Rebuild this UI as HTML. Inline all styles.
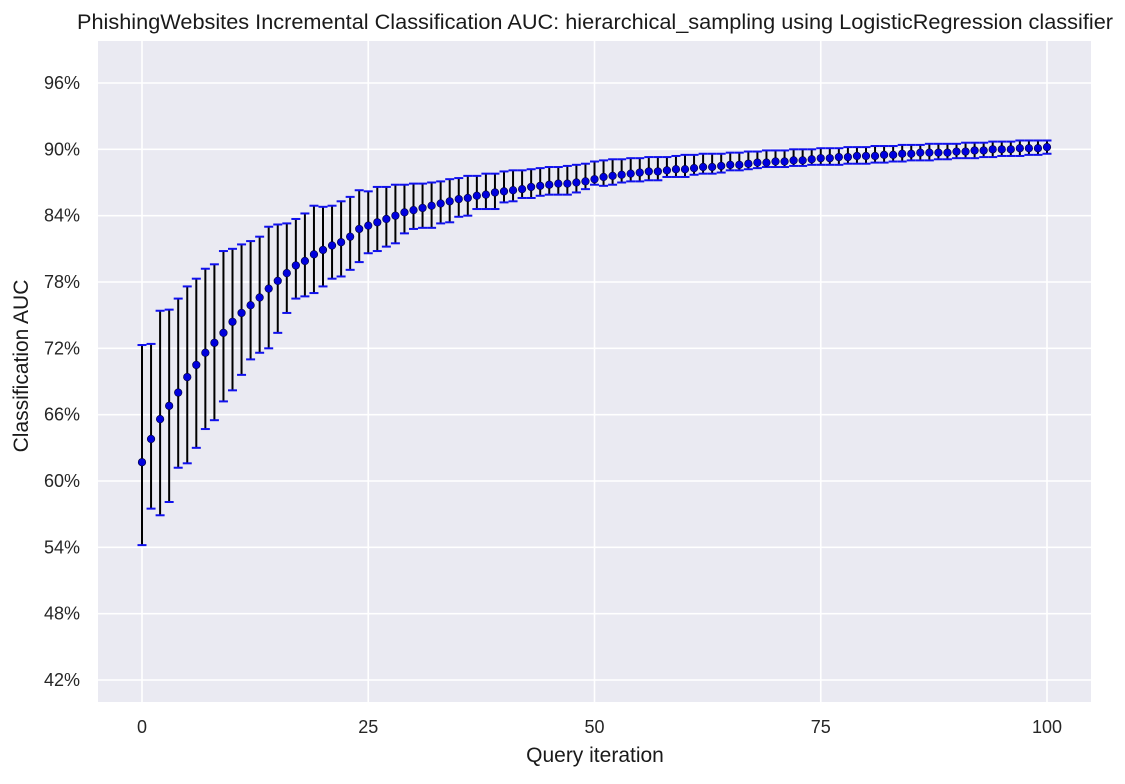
<!DOCTYPE html>
<html><head><meta charset="utf-8"><style>
body{margin:0;background:#fff;}
svg{font-family:"Liberation Sans",Arial,sans-serif;}
</style></head><body>
<svg id="chart" width="1125" height="779" xmlns="http://www.w3.org/2000/svg">
<rect x="98" y="41" width="993" height="661" fill="#eaeaf2"/>
<g id="grid"></g>
<g id="bars"></g>
<g id="ticks"></g>
<text x="595" y="29" font-size="21" text-anchor="middle" textLength="1036" lengthAdjust="spacingAndGlyphs" fill="#1a1a1a">PhishingWebsites Incremental Classification AUC: hierarchical_sampling using LogisticRegression classifier</text>
<text x="595" y="762" font-size="21" text-anchor="middle" fill="#1a1a1a">Query iteration</text>
<text transform="translate(28,366) rotate(-90)" font-size="21" text-anchor="middle" fill="#1a1a1a">Classification AUC</text>
</svg>
<script>
const xTicks=[0,25,50,75,100];
const yTicks=[42,48,54,60,66,72,78,84,90,96];
const means=[61.7,63.8,65.6,66.8,68.0,69.4,70.5,71.6,72.5,73.4,74.4,75.2,75.9,76.6,77.4,78.1,78.8,79.5,79.9,80.5,80.9,81.3,81.6,82.1,82.8,83.1,83.4,83.7,84.0,84.3,84.5,84.7,84.9,85.1,85.3,85.5,85.6,85.8,85.9,86.1,86.2,86.3,86.4,86.6,86.7,86.8,86.9,86.9,87.0,87.1,87.3,87.5,87.6,87.7,87.8,87.9,88.0,88.0,88.1,88.2,88.2,88.3,88.4,88.4,88.5,88.6,88.6,88.7,88.8,88.8,88.9,88.9,89.0,89.0,89.1,89.2,89.2,89.3,89.3,89.4,89.4,89.4,89.5,89.5,89.6,89.6,89.7,89.7,89.7,89.7,89.8,89.8,89.9,89.9,90.0,90.0,90.0,90.1,90.1,90.1,90.2];
const lower=[54.2,57.5,56.9,58.1,61.2,61.6,63.0,64.7,65.5,67.2,68.2,69.6,71.0,71.6,72.0,73.4,75.2,76.5,76.7,77.0,77.6,78.3,78.5,79.1,79.8,80.6,80.8,81.2,81.5,82.4,82.8,82.9,82.9,83.3,83.4,83.9,84.0,84.6,84.6,84.6,85.2,85.3,85.6,85.6,85.8,85.9,85.9,85.9,86.1,86.4,86.8,86.7,86.8,87.0,87.1,87.1,87.2,87.2,87.5,87.5,87.5,87.7,87.8,87.8,87.9,88.1,88.1,88.2,88.3,88.4,88.4,88.4,88.5,88.5,88.6,88.6,88.6,88.6,88.7,88.7,88.7,88.8,88.8,88.9,88.9,89.0,89.0,89.0,89.1,89.1,89.2,89.2,89.2,89.3,89.3,89.4,89.4,89.4,89.5,89.5,89.6];
const upper=[72.3,72.4,75.4,75.5,76.5,77.6,78.3,79.2,79.6,80.8,81.0,81.4,81.7,82.1,83.0,83.2,83.3,83.7,84.2,84.9,84.8,84.9,85.3,85.7,86.3,86.2,86.6,86.6,86.8,86.8,86.9,86.9,87.0,87.1,87.3,87.4,87.6,87.6,87.8,87.8,88.0,88.1,88.1,88.2,88.3,88.4,88.4,88.5,88.6,88.7,88.9,89.0,89.1,89.1,89.2,89.2,89.3,89.3,89.3,89.4,89.5,89.5,89.6,89.6,89.6,89.7,89.7,89.8,89.8,89.9,89.9,89.9,90.0,90.0,90.0,90.1,90.1,90.1,90.2,90.2,90.2,90.3,90.3,90.3,90.4,90.4,90.4,90.5,90.5,90.5,90.5,90.6,90.6,90.6,90.7,90.7,90.7,90.8,90.8,90.8,90.8];
const NS="http://www.w3.org/2000/svg";
function X(i){return 142+i*(1047-142)/100;}
function Y(v){return 83+(96-v)*(680-83)/54;}
function mk(tag,attrs,parent){const e=document.createElementNS(NS,tag);for(const k in attrs)e.setAttribute(k,attrs[k]);parent.appendChild(e);return e;}
const grid=document.getElementById('grid'),bars=document.getElementById('bars'),ticks=document.getElementById('ticks');
xTicks.forEach(t=>{
  const l=mk('line',{x1:X(t),x2:X(t),y1:41,y2:702,stroke:'#fff','stroke-width':1.6},grid);
  
  
  const tx=mk('text',{x:X(t),y:733,'font-size':18,'text-anchor':'middle',fill:'#262626'},ticks);
  tx.textContent=t;
  
  
});
yTicks.forEach(t=>{
  const l=mk('line',{x1:98,x2:1091,y1:Y(t),y2:Y(t),stroke:'#fff','stroke-width':1.6},grid);
  
  
  const tx=mk('text',{x:80,y:Y(t)+6,'font-size':18,'text-anchor':'end',fill:'#262626'},ticks);
  tx.textContent=t+'%';
  
  
});
means.forEach((m,i)=>{
  const x=X(i);
  const g=mk('g',{},bars);
  
  
  mk('line',{x1:x,x2:x,y1:Y(upper[i]),y2:Y(lower[i]),stroke:'#000','stroke-width':2},g);
  mk('line',{x1:x-4.5,x2:x+4.5,y1:Y(upper[i]),y2:Y(upper[i]),stroke:'#1010ee','stroke-width':2},g);
  mk('line',{x1:x-4.5,x2:x+4.5,y1:Y(lower[i]),y2:Y(lower[i]),stroke:'#1010ee','stroke-width':2},g);
  mk('circle',{cx:x,cy:Y(m),r:3.8,fill:'#0000dd',stroke:'#000033','stroke-width':0.6},g);
});
</script>
</body></html>
